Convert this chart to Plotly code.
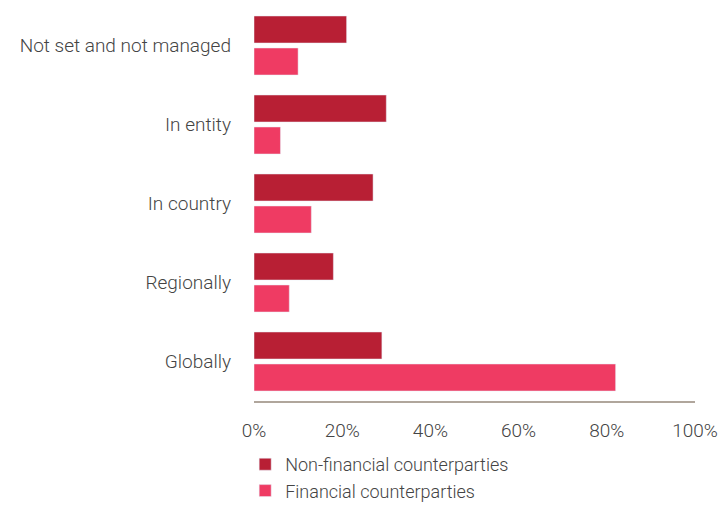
import plotly.graph_objects as go

categories = ["Not set and not managed", "In entity", "In country", "Regionally", "Globally"]
non_financial = [21, 30, 27, 18, 29]
financial = [10, 6, 13, 8, 82]
tick_vals = [0, 20, 40, 60, 80, 100]
tick_text = ["0%", "20%", "40%", "60%", "80%", "100%"]

fig = go.Figure()
fig.add_trace(go.Bar(y=categories, x=non_financial, orientation="h",
                     name="Non-financial counterparties", marker_color="#B81F34"))
fig.add_trace(go.Bar(y=categories, x=financial, orientation="h",
                     name="Financial counterparties", marker_color="#EF3B63"))

# plot area spans the whole height; y domain keeps the bars above the legend
fig.update_layout(
    width=724, height=509,
    margin=dict(l=254, r=29, t=6, b=0),
    plot_bgcolor="white", paper_bgcolor="white",
    font=dict(family="Roboto", size=19, color="#444444", weight=300),
    barmode="group", bargap=0.19, bargroupgap=0.156,
    showlegend=True,
    legend=dict(x=-0.02, xanchor="left", y=0, yanchor="bottom",
                orientation="v", tracegroupgap=0, itemclick=False,
                bgcolor="rgba(0,0,0,0)", font=dict(size=18, weight=300)),
)
fig.update_xaxes(range=[0, 100], tickvals=tick_vals, ticktext=tick_text,
                 showgrid=False, zeroline=False, showline=True,
                 linecolor="#B0A69C", linewidth=2, ticklabelstandoff=11)
fig.update_yaxes(autorange="reversed", showgrid=False, zeroline=False,
                 ticklabelstandoff=22, domain=[108 / 503, 1])

fig.write_html("out.html", config={"displayModeBar": False},
               post_script="document.body.style.margin='0';")
